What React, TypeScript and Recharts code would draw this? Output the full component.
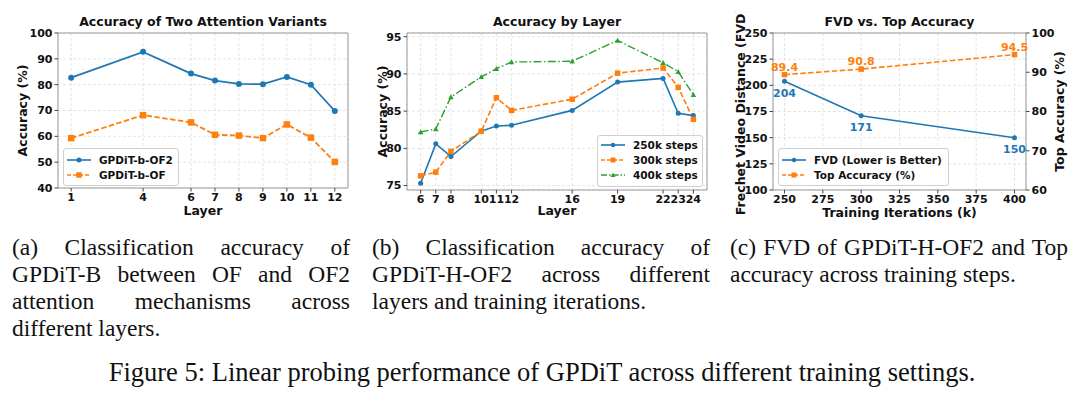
import React from "react";
import { LineChart, Line, XAxis, YAxis, CartesianGrid, Legend, ReferenceArea, LabelList } from "recharts";

// (a) two attention variants
const layersA = [1, 4, 6, 7, 8, 9, 10, 11, 12];
const accOF2 = [82.7, 92.7, 84.3, 81.6, 80.3, 80.2, 83.0, 80.0, 69.8];
const accOF = [59.3, 68.2, 65.4, 60.6, 60.3, 59.3, 64.6, 59.5, 50.1];
const ticksAY = [40, 50, 60, 70, 80, 90, 100];

// (b) accuracy by layer
const layersB = [6, 7, 8, 10, 11, 12, 16, 19, 22, 23, 24];
const acc250k = [75.3, 80.6, 78.9, 82.3, 83.0, 83.1, 85.1, 88.9, 89.4, 84.7, 84.4];
const acc300k = [76.3, 76.8, 79.6, 82.3, 86.8, 85.1, 86.6, 90.1, 90.8, 88.2, 83.9];
const acc400k = [82.2, 82.6, 86.9, 89.6, 90.7, 91.6, 91.7, 94.5, 91.5, 90.3, 87.2];
const ticksBY = [75, 80, 85, 90, 95];

// (c) FVD vs top accuracy
const itersC = [250, 300, 400];
const fvd = [204, 171, 150];
const topAcc = [89.4, 90.8, 94.5];
const ticksCX = [250, 275, 300, 325, 350, 375, 400];
const ticksCFvd = [100, 125, 150, 175, 200, 225, 250];
const ticksCAcc = [60, 70, 80, 90, 100];

const BLUE = "#1f77b4";
const ORANGE = "#ff7f0e";
const GREEN = "#2ca02c";
const FONT = "'DejaVu Sans', sans-serif";
const SERIF = "'Liberation Serif', 'Times New Roman', serif";
const FRAME = "#999999";

const tickStyle = { fontSize: 11, fontWeight: 700, fill: "#111", fontFamily: FONT };
const gridProps = { stroke: "#dedede", strokeDasharray: "3 2", strokeWidth: 0.8 };
const DASH = "5.5 2.4";
const DASHDOT = "8 2.4 1.5 2.4";

const dataA = layersA.map((layer, i) => ({ layer, of2: accOF2[i], of: accOF[i] }));
const dataB = layersB.map((layer, i) => ({ layer, s250: acc250k[i], s300: acc300k[i], s400: acc400k[i] }));
const dataC = itersC.map((it, i) => ({ it, fvd: fvd[i], acc: topAcc[i] }));

function Marker({ kind, x, y, size, color }: any) {
  if (kind === "square")
    return <rect x={x - size / 2} y={y - size / 2} width={size} height={size} fill={color} />;
  if (kind === "triangle") {
    const h = size / 2;
    return <polygon points={`${x},${y - h} ${x - h},${y + h * 0.8} ${x + h},${y + h * 0.8}`} fill={color} />;
  }
  return <circle cx={x} cy={y} r={size / 2} fill={color} />;
}

const dotOf = (kind: string, size: number, color: string) => (p: any) =>
  <Marker key={`m-${p.index}`} kind={kind} x={p.cx} y={p.cy} size={size} color={color} />;

const xTitle = (value: string, baseline: number) => ({
  content: (p: any) => {
    const vb = p.viewBox;
    return (
      <text x={vb.x + vb.width / 2} y={vb.y + baseline} textAnchor="middle" fontFamily={FONT} fontWeight={700} fontSize={12.5} fill="#111">
        {value}
      </text>
    );
  },
});

const yTitle = (value: string, dx: number) => ({
  content: (p: any) => {
    const vb = p.viewBox;
    const cx = vb.x + dx;
    const cy = vb.y + vb.height / 2;
    return (
      <text x={cx} y={cy} transform={`rotate(-90 ${cx} ${cy})`} textAnchor="middle" dominantBaseline="central" fontFamily={FONT} fontWeight={700} fontSize={12.5} fill="#111">
        {value}
      </text>
    );
  },
});

function BoxLegend({ items, row, padTop, width }: any) {
  return (
    <div style={{ width, boxSizing: "border-box", background: "rgba(255,255,255,0.85)", border: "1px solid #d0d0d0", borderRadius: 3, paddingTop: padTop, paddingBottom: 3, fontFamily: FONT, fontWeight: 700, fontSize: 10.5, color: "#111" }}>
      {items.map((it: any) => (
        <div key={it.name} style={{ display: "flex", alignItems: "center", height: row, whiteSpace: "nowrap" }}>
          <svg width={30} height={10} style={{ flex: "none" }}>
            <line x1={3} y1={5} x2={27} y2={5} stroke={it.color} strokeWidth={1.6} strokeDasharray={it.dash} />
            <Marker kind={it.marker} x={15} y={5} size={it.size} color={it.color} />
          </svg>
          <span style={{ marginLeft: 5 }}>{it.name}</span>
        </div>
      ))}
    </div>
  );
}

const legendA = [
  { name: "GPDiT-b-OF2", color: BLUE, marker: "circle", size: 5 },
  { name: "GPDiT-b-OF", color: ORANGE, marker: "square", size: 5.5, dash: "4 2" },
];
const legendB = [
  { name: "250k steps", color: BLUE, marker: "circle", size: 4.5 },
  { name: "300k steps", color: ORANGE, marker: "square", size: 5, dash: "4 2" },
  { name: "400k steps", color: GREEN, marker: "triangle", size: 5, dash: "6 2 1.5 2" },
];
const legendC = [
  { name: "FVD (Lower is Better)", color: BLUE, marker: "circle", size: 4.5 },
  { name: "Top Accuracy (%)", color: ORANGE, marker: "square", size: 5, dash: "4 2" },
];

const legendPos = (left: number, top: number, width: number) => ({ position: "absolute" as const, left, top, width, height: "auto" });

const subCaptions = [
  { left: 12, lines: ["(a) Classification accuracy of", "GPDiT-B between OF and OF2", "attention mechanisms across", "different layers."] },
  { left: 372, lines: ["(b) Classification accuracy of", "GPDiT-H-OF2 across different", "layers and training iterations."] },
  { left: 730, lines: ["(c) FVD of GPDiT-H-OF2 and Top", "accuracy across training steps."] },
];

export default function App() {
  return (
    <div style={{ position: "fixed", left: 0, top: 0, width: 1080, height: 398, background: "#fff", overflow: "hidden" }}>
      <svg width={1080} height={40} style={{ position: "absolute", left: 0, top: 0 }}>
        <text x={203} y={25.5} textAnchor="middle" fontFamily={FONT} fontWeight={700} fontSize={12.5} fill="#111">Accuracy of Two Attention Variants</text>
        <text x={557} y={25.5} textAnchor="middle" fontFamily={FONT} fontWeight={700} fontSize={12.5} fill="#111">Accuracy by Layer</text>
        <text x={899.5} y={25.5} textAnchor="middle" fontFamily={FONT} fontWeight={700} fontSize={12.5} fill="#111">FVD vs. Top Accuracy</text>
      </svg>

      <div style={{ position: "absolute", left: 0, top: 0 }}>
        <LineChart width={360} height={225} data={dataA} margin={{ top: 33, right: 12, bottom: 7, left: 0 }}>
          <CartesianGrid {...gridProps} />
          <XAxis type="number" dataKey="layer" domain={[0.45, 12.55]} ticks={layersA} interval={0} allowDataOverflow height={30}
            tick={tickStyle} tickSize={3.5} tickMargin={2} axisLine={false} tickLine={{ stroke: "#444" }} label={xTitle("Layer", 27)} />
          <YAxis type="number" domain={[40, 100]} ticks={ticksAY} interval={0} allowDataOverflow width={58}
            tick={tickStyle} tickSize={3.5} tickMargin={2} axisLine={false} tickLine={{ stroke: "#444" }} label={yTitle("Accuracy (%)", 22.5)} />
          <ReferenceArea x1={0.45} x2={12.55} y1={40} y2={100} fill="none" stroke={FRAME} strokeWidth={1} ifOverflow="visible" />
          <Line dataKey="of2" stroke={BLUE} strokeWidth={1.8} dot={dotOf("circle", 6, BLUE)} activeDot={false} isAnimationActive={false} />
          <Line dataKey="of" stroke={ORANGE} strokeWidth={1.8} strokeDasharray={DASH} dot={dotOf("square", 6.5, ORANGE)} activeDot={false} isAnimationActive={false} />
          <Legend layout="vertical" align="center" verticalAlign="middle" wrapperStyle={legendPos(63, 148, 116)}
            content={() => <BoxLegend items={legendA} row={14.4} padTop={4} width={116} />} />
        </LineChart>
      </div>

      <div style={{ position: "absolute", left: 355, top: 0 }}>
        <LineChart width={365} height={225} data={dataB} margin={{ top: 33, right: 13, bottom: 5, left: 0 }}>
          <CartesianGrid {...gridProps} />
          <XAxis type="number" dataKey="layer" domain={[5.1, 24.9]} ticks={layersB} interval={0} allowDataOverflow height={30}
            tick={tickStyle} tickSize={3.5} tickMargin={2} axisLine={false} tickLine={{ stroke: "#444" }} label={xTitle("Layer", 24.5)} />
          <YAxis type="number" domain={[74.4, 95.5]} ticks={ticksBY} interval={0} allowDataOverflow width={52}
            tick={tickStyle} tickSize={3.5} tickMargin={2} axisLine={false} tickLine={{ stroke: "#444" }} label={yTitle("Accuracy (%)", 27.5)} />
          <ReferenceArea x1={5.1} x2={24.9} y1={74.4} y2={95.5} fill="none" stroke={FRAME} strokeWidth={1} ifOverflow="visible" />
          <Line dataKey="s250" stroke={BLUE} strokeWidth={1.6} dot={dotOf("circle", 5, BLUE)} activeDot={false} isAnimationActive={false} />
          <Line dataKey="s300" stroke={ORANGE} strokeWidth={1.6} strokeDasharray={DASH} dot={dotOf("square", 5.5, ORANGE)} activeDot={false} isAnimationActive={false} />
          <Line dataKey="s400" stroke={GREEN} strokeWidth={1.4} strokeDasharray={DASHDOT} dot={dotOf("triangle", 5.5, GREEN)} activeDot={false} isAnimationActive={false} />
          <Legend layout="vertical" align="center" verticalAlign="middle" wrapperStyle={legendPos(242, 135, 106)}
            content={() => <BoxLegend items={legendB} row={15.2} padTop={1.5} width={106} />} />
        </LineChart>
      </div>

      <div style={{ position: "absolute", left: 710, top: 12 }}>
        <LineChart width={370} height={213} data={dataC} margin={{ top: 21, right: 0, bottom: 5, left: 0 }}>
          <CartesianGrid {...gridProps} yAxisId="fvd" />
          <XAxis type="number" dataKey="it" domain={[242.5, 407.5]} ticks={ticksCX} interval={0} allowDataOverflow height={30}
            tick={tickStyle} tickSize={3.5} tickMargin={2} axisLine={false} tickLine={{ stroke: "#444" }} label={xTitle("Training Iterations (k)", 26.5)} />
          <YAxis yAxisId="fvd" type="number" domain={[100, 250]} ticks={ticksCFvd} interval={0} allowDataOverflow width={63}
            tick={tickStyle} tickSize={3.5} tickMargin={2} axisLine={false} tickLine={{ stroke: "#444" }} label={yTitle("Frechet Video Distance (FVD)", 30)} />
          <YAxis yAxisId="acc" orientation="right" type="number" domain={[60, 100]} ticks={ticksCAcc} interval={0} allowDataOverflow width={54}
            tick={tickStyle} tickSize={3.5} tickMargin={2} axisLine={false} tickLine={{ stroke: "#444" }} label={yTitle("Top Accuracy (%)", 33)} />
          <ReferenceArea yAxisId="fvd" x1={242.5} x2={407.5} y1={100} y2={250} fill="none" stroke={FRAME} strokeWidth={1} ifOverflow="visible" />
          <Line yAxisId="fvd" dataKey="fvd" stroke={BLUE} strokeWidth={1.6} dot={dotOf("circle", 5, BLUE)} activeDot={false} isAnimationActive={false}>
            <LabelList dataKey="fvd" position="bottom" offset={8} fill={BLUE} fontFamily={FONT} fontWeight={700} fontSize={11} />
          </Line>
          <Line yAxisId="acc" dataKey="acc" stroke={ORANGE} strokeWidth={1.6} strokeDasharray={DASH} dot={dotOf("square", 5.5, ORANGE)} activeDot={false} isAnimationActive={false}>
            <LabelList dataKey="acc" position="top" offset={4} fill={ORANGE} fontFamily={FONT} fontWeight={700} fontSize={11} />
          </Line>
          <Legend layout="vertical" align="center" verticalAlign="middle" wrapperStyle={legendPos(68, 136, 171)}
            content={() => <BoxLegend items={legendC} row={15} padTop={3} width={171} />} />
        </LineChart>
      </div>

      {subCaptions.map((c) => (
        <div key={c.left} style={{ position: "absolute", left: c.left, top: 234, width: 338, fontFamily: SERIF, fontSize: 23.5, lineHeight: "27px", color: "#111" }}>
          {c.lines.map((ln, i) => (
            <div key={i} style={{ whiteSpace: "nowrap", textAlign: "justify", textAlignLast: i < c.lines.length - 1 ? "justify" : "left" }}>{ln}</div>
          ))}
        </div>
      ))}
      <div style={{ position: "absolute", left: 0, top: 357, width: 1084, textAlign: "center", fontFamily: SERIF, fontSize: 26.5, lineHeight: "30px", color: "#111" }}>
        Figure 5: Linear probing performance of GPDiT across different training settings.
      </div>
    </div>
  );
}
